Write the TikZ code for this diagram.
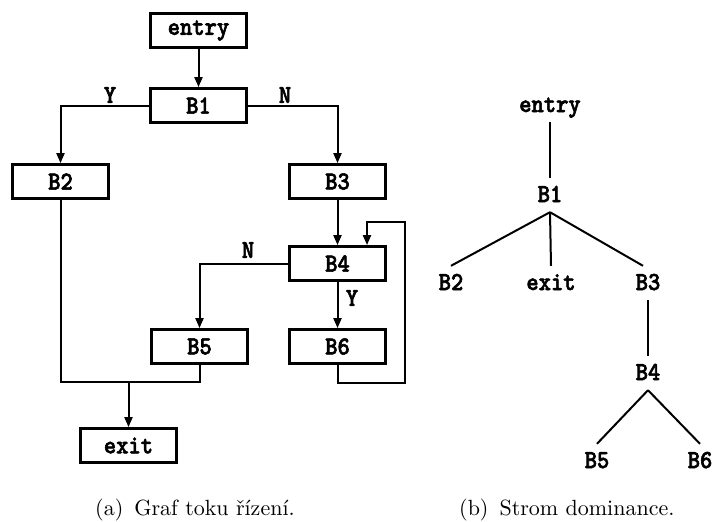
\documentclass[tikz,border=0pt]{standalone}
\usepackage{fontspec}
\newfontfamily\codefont{lmmonolt10-bold.otf}[FakeBold=2.2,FakeStretch=0.9]
\newfontfamily\capfont{lmroman10-regular.otf}
\usetikzlibrary{arrows.meta,calc}
\begin{document}
\begin{tikzpicture}[x=1pt,y=-1pt,
  codetext/.style={font=\codefont\fontsize{26}{26}\selectfont},
  blk/.style={codetext, draw, line width=2.8pt, minimum width=96pt,
    minimum height=34pt, inner sep=0pt},
  tlabel/.style={codetext, inner sep=0pt, text height=14pt, text depth=0pt,
    minimum height=34pt},
  edgelbl/.style={codetext, inner sep=0pt},
  flow/.style={line width=2pt, -{Triangle[length=10pt,width=8pt]}},
  link/.style={line width=2pt},
  captext/.style={font=\capfont\fontsize{22}{24}\selectfont, inner sep=0pt, anchor=base west}
]
\useasboundingbox (0,0) rectangle (715,522);

% (a) control flow graph
\node[blk] (entry) at (198.5,30.5) {entry};
\node[blk] (B1) at (198.5,105.5) {B1};
\node[blk] (B2) at (60.5,181.5) {B2};
\node[blk] (B3) at (337.5,181.5) {B3};
\node[blk] (B4) at (337.5,263.5) {B4};
\node[blk] (B5) at (199.5,346.5) {B5};
\node[blk] (B6) at (337.5,346.5) {B6};
\node[blk] (exit) at (128.5,445.5) {exit};

\draw[flow] (entry) -- (B1);
\draw[flow] (B1.west) -| (B2);
\draw[flow] (B1.east) -| (B3);
\draw[flow] (B3) -- (B4);
\draw[flow] (B4.west) -| (B5);
\draw[flow] (B4) -- (B6);

% back edge B6 -> B4
\coordinate (r1) at (405,383);
\coordinate (r2) at (405,222);
\coordinate (r3) at (367,222);
\draw[flow] (B6.south) |- (r1) -- (r2) -- (r3) -- (r3 |- B4.north);

% B2 and B5 join towards exit
\coordinate (m) at (128.5,382);
\draw[link] (B2.south) |- (m) -| (B5.south);
\draw[flow] (m) -- (exit);

\node[edgelbl] (y1) at (110,95) {Y};
\node[edgelbl] (n1) at (285,95) {N};
\node[edgelbl] (n4) at (248,250) {N};
\node[edgelbl] (y4) at (352,298) {Y};

% (b) dominator tree
\node[tlabel] (tentry) at (550,105) {entry};
\node[tlabel] (tB1) at (550,195) {B1};
\node[tlabel] (tB2) at (451,283) {B2};
\node[tlabel] (texit) at (551,283) {exit};
\node[tlabel] (tB3) at (648,283) {B3};
\node[tlabel] (tB4) at (648,373) {B4};
\node[tlabel] (tB5) at (597,461) {B5};
\node[tlabel] (tB6) at (700,461) {B6};

\draw[link] (tentry) -- (tB1);
\draw[link] (tB1.south) -- (tB2.north);
\draw[link] (tB1.south) -- (texit.north);
\draw[link] (tB1.south) -- ($(tB3.north)+(-5,0)$);
\draw[link] (tB3) -- (tB4);
\draw[link] (tB4.south) -- (tB5.north);
\draw[link] (tB4.south) -- (tB6.north);

% captions
\node[captext] (capa) at (95,515) {(a)\hskip 11pt Graf toku řízení.};
\node[captext] (capb) at (459,515) {(b)\hskip 11pt Strom dominance.};
\end{tikzpicture}
\end{document}
